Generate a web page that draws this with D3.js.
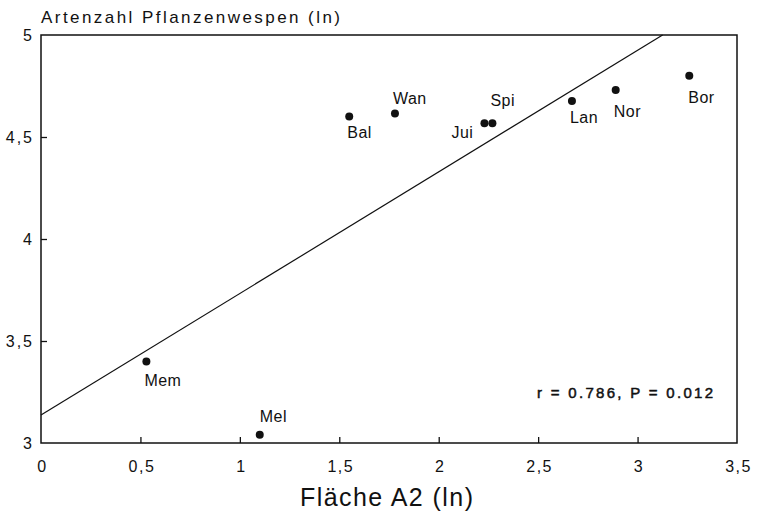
<!DOCTYPE html>
<html>
<head>
<meta charset="utf-8">
<script src="https://cdn.jsdelivr.net/npm/d3@7"></script>
<style>
  body { margin: 0; background: #fff; }
  text { font-family: "Liberation Sans", Arial, sans-serif; fill: #111; }
</style>
</head>
<body>
<div id="chart"></div>
<script>
// sites and their values (ln area, ln species count)
var sites   = ["Mem", "Mel", "Bal", "Wan", "Jui", "Spi", "Lan", "Nor", "Bor"];
var lnArea  = [0.53, 1.10, 1.55, 1.78, 2.23, 2.27, 2.67, 2.89, 3.26];
var lnSpec  = [3.40, 3.04, 4.60, 4.615, 4.567, 4.567, 4.676, 4.73, 4.80];

var xTicks = [0, 0.5, 1, 1.5, 2, 2.5, 3, 3.5];
var yTicks = [3, 3.5, 4, 4.5, 5];

// regression line: intercept and slope
var fitIntercept = 3.137;
var fitSlope = 0.596;

// label placement relative to the dot (px)
var labelOffset = {
  Mem: [-2, 25], Mel: [0, -13], Bal: [-2, 21], Wan: [-2, -10],
  Jui: [-33, 15], Spi: [-2, -17], Lan: [-2, 22], Nor: [-2, 27], Bor: [-1, 27]
};

var W = 757, H = 516;
var m = {left: 41, right: 20, top: 35, bottom: 73};

var svg = d3.select("#chart").append("svg")
    .attr("width", W)
    .attr("height", H);

var x = d3.scaleLinear().domain([0, 3.5]).range([m.left, W - m.right]);
var y = d3.scaleLinear().domain([3, 5]).range([H - m.bottom, m.top]);

var comma = function(d) { return String(d).replace(".", ","); };

// frame
svg.append("rect")
    .attr("x", x(0)).attr("y", y(5))
    .attr("width", x(3.5) - x(0)).attr("height", y(3) - y(5))
    .attr("fill", "none").attr("stroke", "#111").attr("stroke-width", 1.5);

// x axis
var xAxis = svg.append("g")
    .attr("transform", "translate(0," + y(3) + ")")
    .call(d3.axisBottom(x).tickValues(xTicks).tickFormat(comma).tickSizeInner(-6).tickPadding(18));
xAxis.select(".domain").remove();
xAxis.selectAll(".tick line").attr("stroke", "#111").attr("stroke-width", 1.3)
    .attr("display", function(d) { return (d === 0 || d === 3.5) ? "none" : null; });
xAxis.selectAll(".tick text")
    .style("font-size", "16px").style("letter-spacing", "1.5px")
    .attr("dx", "1px").attr("fill", "#111");

// y axis
var yAxis = svg.append("g")
    .attr("transform", "translate(" + x(0) + ",0)")
    .call(d3.axisLeft(y).tickValues(yTicks).tickFormat(comma).tickSizeInner(-6).tickPadding(7));
yAxis.select(".domain").remove();
yAxis.selectAll(".tick line").attr("stroke", "#111").attr("stroke-width", 1.3)
    .attr("display", function(d) { return (d === 3 || d === 5) ? "none" : null; });
yAxis.selectAll(".tick text")
    .style("font-size", "16px").style("letter-spacing", "2px")
    .attr("fill", "#111");

// regression line, clipped to the frame
var xEnd = (5 - fitIntercept) / fitSlope;
svg.append("line")
    .attr("x1", x(0)).attr("y1", y(fitIntercept))
    .attr("x2", x(xEnd)).attr("y2", y(5))
    .attr("stroke", "#111").attr("stroke-width", 1.2);

// points
var pts = sites.map(function(s, i) { return {name: s, a: lnArea[i], s: lnSpec[i]}; });

svg.selectAll("circle.pt")
    .data(pts)
    .enter()
    .append("circle")
    .attr("class", "pt")
    .attr("cx", function(d) { return x(d.a); })
    .attr("cy", function(d) { return y(d.s); })
    .attr("r", 4)
    .attr("fill", "#111");

svg.selectAll("text.lbl")
    .data(pts)
    .enter()
    .append("text")
    .attr("class", "lbl")
    .attr("x", function(d) { return x(d.a) + labelOffset[d.name][0]; })
    .attr("y", function(d) { return y(d.s) + labelOffset[d.name][1]; })
    .style("font-size", "16px")
    .style("letter-spacing", "0.5px")
    .text(function(d) { return d.name; });

// titles
svg.append("text")
    .attr("x", 41).attr("y", 23)
    .attr("textLength", 299).attr("lengthAdjust", "spacing")
    .style("font-size", "17px")
    .text("Artenzahl Pflanzenwespen (ln)");

svg.append("text")
    .attr("x", 300).attr("y", 506)
    .attr("textLength", 173).attr("lengthAdjust", "spacing")
    .style("font-size", "25px")
    .text("Fläche A2 (ln)");

svg.append("text")
    .attr("x", 537).attr("y", 398)
    .attr("textLength", 176).attr("lengthAdjust", "spacing")
    .style("font-size", "15px")
    .style("stroke", "#111").style("stroke-width", "0.5px")
    .text("r = 0.786, P = 0.012");
</script>
</body>
</html>
